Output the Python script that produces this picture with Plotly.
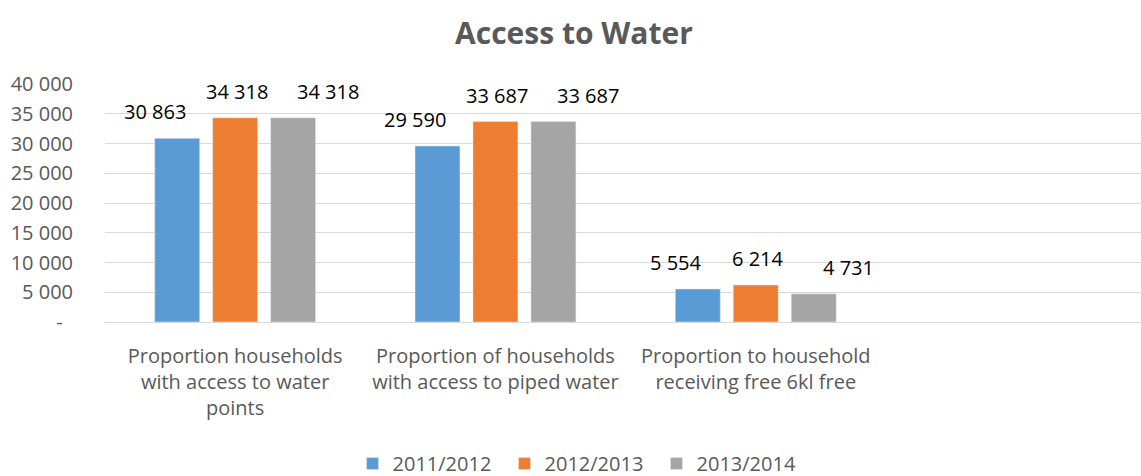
import plotly.graph_objects as go

categories = [
    "Proportion households<br>with access to water<br>points",
    "Proportion of households<br>with access to piped water",
    "Proportion to household<br>receiving free 6kl free",
]
series_names = ["2011/2012", "2012/2013", "2013/2014"]
values_2011 = [30863, 29590, 5554]
values_2012 = [34318, 33687, 6214]
values_2013 = [34318, 33687, 4731]
colors = ["#5b9bd5", "#ed7d31", "#a5a5a5"]

tick_vals = [0, 5000, 10000, 15000, 20000, 25000, 30000, 35000, 40000]
tick_text = ["-\u00a0\u00a0", "5 000", "10 000", "15 000", "20 000", "25 000", "30 000", "35 000", "40 000"]

font_family = "Open Sans, Lato, sans-serif"
# horizontal offset (px) of each series' data label from its group centre
label_shift = [-80, 2, 93]

fig = go.Figure()
all_values = [values_2011, values_2012, values_2013]
for name, vals, col in zip(series_names, all_values, colors):
    fig.add_trace(go.Bar(
        x=categories,
        y=vals,
        name=name,
        marker=dict(color=col),
    ))

# data labels, placed like Excel does
for vals, shift in zip(all_values, label_shift):
    for cat, v in zip(categories, vals):
        fig.add_annotation(
            x=cat, y=v, text=f"{v:,}".replace(",", " "),
            showarrow=False, xanchor="center", yanchor="bottom",
            xshift=shift, yshift=11,
            font=dict(size=20, color="#000000", family=font_family),
        )

fig.update_layout(
    title=dict(text="<b>Access to Water</b>", x=0.503, xanchor="center", y=0.93, yanchor="middle",
               font=dict(size=30, color="#595959", family=font_family)),
    barmode="group",
    bargap=0.332,
    bargroupgap=0.224,
    plot_bgcolor="white",
    paper_bgcolor="white",
    width=1141,
    height=476,
    margin=dict(l=105, r=0, t=84, b=154, autoexpand=False),
    font=dict(family=font_family, color="#595959"),
    legend=dict(orientation="h", x=0.459, xanchor="center", y=-0.595, yanchor="middle",
                font=dict(size=20, color="#595959"), traceorder="normal",
                entrywidth=107, itemwidth=30),
)
fig.update_xaxes(
    range=[-0.5, 3.48],
    showgrid=False,
    showline=True,
    linecolor="#d9d9d9",
    tickfont=dict(size=20, color="#595959"),
    ticks="",
    ticklabelstandoff=16,
    automargin=False,
)
fig.update_yaxes(
    range=[0, 40000],
    tickvals=tick_vals,
    ticktext=tick_text,
    showgrid=True,
    gridcolor="#d9d9d9",
    zeroline=False,
    tickfont=dict(size=20, color="#595959"),
    ticks="",
    ticklabelstandoff=31,
    automargin=False,
)

# page body has a default 8px margin; drop it so the chart fills the window
fig.write_html("out.html", config=dict(displayModeBar=False),
               post_script="document.body.style.margin='0px';")
